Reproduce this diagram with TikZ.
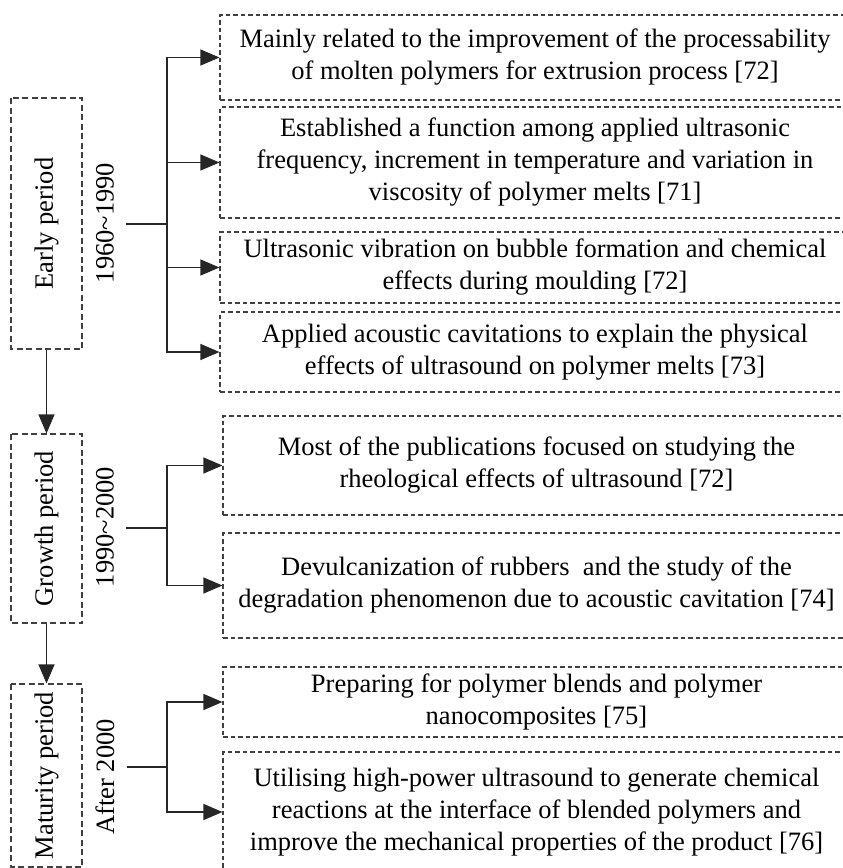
\documentclass[tikz,border=0pt]{standalone}
\usepackage{fontspec}
\setmainfont{Liberation Serif}
\usetikzlibrary{arrows.meta}

\begin{document}
\begin{tikzpicture}
            [x=1pt, y=-1pt, font=\fontsize{26.5}{32}\selectfont,
            period/.style={rotate=90, draw=black!75, dash pattern=on 6pt off 3.5pt, line width=1.1pt, minimum height=71pt, inner sep=0pt},
            year/.style={rotate=90, inner sep=0pt, inner ysep=12pt},
            item/.style={draw=black!75, dash pattern=on 4.5pt off 3pt, line width=1.1pt, align=center, inner sep=0pt},
            edge/.style={line width=1.2pt, black!85},
            arr/.style={edge, -{Triangle[length=19pt, width=16pt]}}]

            \useasboundingbox (0,0) rectangle (843,868);

            % periods
            \node[period, minimum width=251pt] (early) at (46.5,223.5) {Early period};
            \node[period, minimum width=189pt] (growth) at (46.5,528.5) {Growth period};
            \node[period, minimum width=183pt] (mature) at (46.5,775.5) {Maturity period};

            \draw[arr] (early) -- (growth);
            \draw[arr] (growth) -- (mature);

            % years
            \node[year] (y1) at (105,223) {1960\textasciitilde1990};
            \node[year] (y2) at (105,527) {1990\textasciitilde2000};
            \node[year] (y3) at (105,777) {After 2000};

            \coordinate (j1) at (167,224);
            \coordinate (j2) at (167,528);
            \coordinate (j3) at (167,767);

            % items
            \node[item, minimum width=630pt, minimum height=85pt] (a1) at (535,57.5)
                {Mainly related to the improvement of the processability\\of molten polymers for extrusion process [72]};
            \node[item, minimum width=630pt, minimum height=111pt] (a2) at (535,162.5)
                {Established a function among applied ultrasonic\\frequency, increment in temperature and variation in\\viscosity of polymer melts [71]};
            \node[item, minimum width=630pt, minimum height=71pt] (a3) at (535,267.5)
                {Ultrasonic vibration on bubble formation and chemical\\effects during moulding [72]};
            \node[item, minimum width=630pt, minimum height=80pt] (a4) at (535,352)
                {Applied acoustic cavitations to explain the physical\\effects of ultrasound on polymer melts [73]};
            \node[item, minimum width=627pt, minimum height=99pt] (b1) at (536.5,465.5)
                {Most of the publications focused on studying the\\rheological effects of ultrasound [72]};
            \node[item, minimum width=627pt, minimum height=105pt] (b2) at (536.5,585.5)
                {Devulcanization of rubbers\ \ and the study of the\\degradation phenomenon due to acoustic cavitation [74]};
            \node[item, minimum width=627pt, minimum height=70pt] (c1) at (536.5,702)
                {Preparing for polymer blends and polymer\\nanocomposites [75]};
            \node[item, minimum width=627pt, minimum height=120pt] (c2) at (536.5,812)
                {Utilising high-power ultrasound to generate chemical\\reactions at the interface of blended polymers and\\improve the mechanical properties of the product [76]};

            % connectors
            \draw[edge] (y1.south |- j1) -- (j1);
            \draw[edge] (y2.south |- j2) -- (j2);
            \draw[edge] (y3.south |- j3) -- (j3);
            \foreach \n in {a1,a2,a3,a4}
                \draw[arr] (j1) |- (\n.west);
            \foreach \n in {b1,b2}
                \draw[arr] (j2) |- (\n.west);
            \foreach \n in {c1,c2}
                \draw[arr] (j3) |- (\n.west);

        \end{tikzpicture}
\end{document}
